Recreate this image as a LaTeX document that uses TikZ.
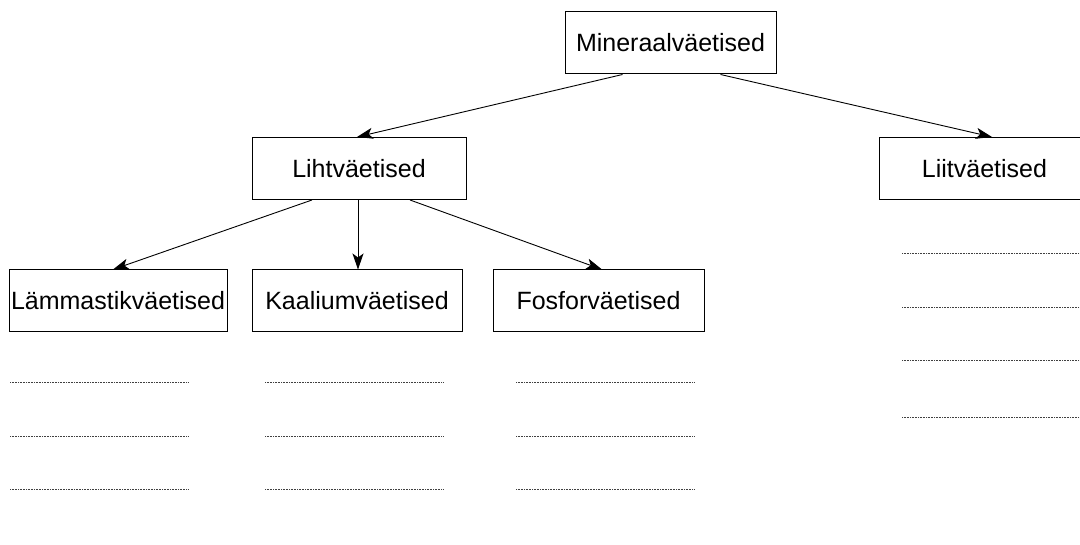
\documentclass[tikz,border=0pt]{standalone}
\usepackage{fontspec}
\setmainfont{Liberation Sans}
\usetikzlibrary{arrows.meta}
\begin{document}
\begin{tikzpicture}[x=1pt,y=-1pt,
  box/.style={draw, line width=1pt, rectangle, minimum height=62pt, inner sep=0pt, font=\fontsize{25}{30}\selectfont},
  conn/.style={line width=0.9pt, -{Stealth[length=16pt,width=11pt,inset=4pt]}},
  blank/.style={line width=0.8pt, black!75, dash pattern=on 0.8pt off 0.8pt}]
\useasboundingbox (0,0) rectangle (1080,545);
\node[box, minimum width=211pt] (min) at (670.5,43) {Mineraalväetised};
\node[box, minimum width=214pt] (liht) at (359,168.5) {Lihtväetised};
\node[box, minimum width=211pt] (liit) at (984.5,168.5) {Liitväetised};
\node[box, minimum width=218pt] (lamm) at (118,301) {Lämmastikväetised};
\node[box, minimum width=210pt] (kaal) at (357,301) {Kaaliumväetised};
\node[box, minimum width=211pt] (fosf) at (598.5,301) {Fosforväetised};
\draw[conn] ([xshift=-48pt]min.south) -- ([xshift=-2pt]liht.north);
\draw[conn] ([xshift=50pt]min.south) -- ([xshift=7.5pt]liit.north);
\draw[conn] ([xshift=-47pt]liht.south) -- ([xshift=-5pt]lamm.north);
\draw[conn] ([xshift=-1pt]liht.south) -- ([xshift=1pt]kaal.north);
\draw[conn] ([xshift=51pt]liht.south) -- ([xshift=3.5pt]fosf.north);
% blank answer lines
\coordinate (a1) at (10,382); \coordinate (a2) at (189,382);
\coordinate (a3) at (10,436); \coordinate (a4) at (189,436);
\coordinate (a5) at (10,489); \coordinate (a6) at (189,489);
\draw[blank] (a1) -- (a2); \draw[blank] (a3) -- (a4); \draw[blank] (a5) -- (a6);
\coordinate (b1) at (265,382); \coordinate (b2) at (444,382);
\coordinate (b3) at (265,436); \coordinate (b4) at (444,436);
\coordinate (b5) at (265,489); \coordinate (b6) at (444,489);
\draw[blank] (b1) -- (b2); \draw[blank] (b3) -- (b4); \draw[blank] (b5) -- (b6);
\coordinate (c1) at (516,382); \coordinate (c2) at (695,382);
\coordinate (c3) at (516,436); \coordinate (c4) at (695,436);
\coordinate (c5) at (516,489); \coordinate (c6) at (695,489);
\draw[blank] (c1) -- (c2); \draw[blank] (c3) -- (c4); \draw[blank] (c5) -- (c6);
\coordinate (d1) at (902,253); \coordinate (d2) at (1080,253);
\coordinate (d3) at (902,307); \coordinate (d4) at (1080,307);
\coordinate (d5) at (902,360); \coordinate (d6) at (1080,360);
\coordinate (d7) at (902,417); \coordinate (d8) at (1080,417);
\draw[blank] (d1) -- (d2); \draw[blank] (d3) -- (d4); \draw[blank] (d5) -- (d6); \draw[blank] (d7) -- (d8);
\end{tikzpicture}
\end{document}
